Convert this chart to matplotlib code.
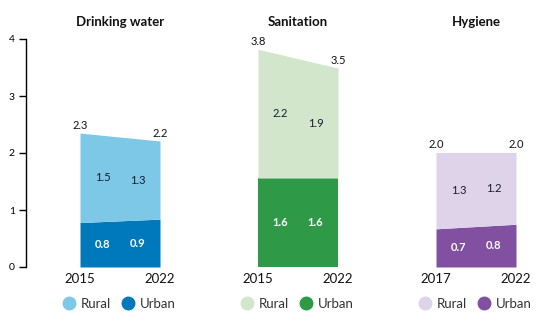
import matplotlib.pyplot as plt
from matplotlib.lines import Line2D

plt.rcParams['font.family'] = ['Lato', 'DejaVu Sans']

# Data (billions of people lacking services)
panels = ['Drinking water', 'Sanitation', 'Hygiene']
years = [['2015', '2022'], ['2015', '2022'], ['2017', '2022']]
urban = [[0.78, 0.84], [1.56, 1.56], [0.67, 0.75]]
total = [[2.35, 2.21], [3.82, 3.49], [2.01, 2.01]]
urban_lbl = [['0.8', '0.9'], ['1.6', '1.6'], ['0.7', '0.8']]
rural_lbl = [['1.5', '1.3'], ['2.2', '1.9'], ['1.3', '1.2']]
total_lbl = [['2.3', '2.2'], ['3.8', '3.5'], ['2.0', '2.0']]

light = ['#7DC8E6', '#D1E6CB', '#DED3E8']
dark = ['#0079BC', '#2E9A48', '#8150A0']

W, H = 560, 333
fig = plt.figure(figsize=(W / 100, H / 100), dpi=100)
ax = fig.add_axes([26 / W, 66 / H, 1 - 26 / W, (267 - 39) / H])

# x in units of one panel width (80 px); panel centers every 178 px
centers = [0, 2.225, 4.45]
ax.set_xlim(-94 / 80, (560 - 120) / 80)
ax.set_ylim(0, 4)

for i, c in enumerate(centers):
    xs = [c - 0.5, c + 0.5]
    ax.fill_between(xs, 0, urban[i], color=dark[i], lw=0)
    ax.fill_between(xs, urban[i], total[i], color=light[i], lw=0)
    for j in range(2):
        xin = xs[j] + (0.28 if j == 0 else -0.28)
        ax.text(xin, (urban[i][j] + total[i][j]) / 2, rural_lbl[i][j],
                ha='center', va='center', fontsize=8, color='#1a1a2e')
        ax.text(xin, urban[i][j] / 2, urban_lbl[i][j],
                ha='center', va='center', fontsize=8, color='white',
                fontweight='bold')
        ax.annotate(total_lbl[i][j], (xs[j], total[i][j]), xytext=(0, 1.5),
                    textcoords='offset points', ha='center', va='bottom',
                    fontsize=8, color='#111111')
        ax.annotate(years[i][j], (xs[j], 0), xytext=(0, -4),
                    textcoords='offset points', ha='center', va='top',
                    fontsize=9.5, color='#111111')
    ax.text(c, 4.3, panels[i], ha='center', va='center', fontsize=9.5,
            fontweight='bold', color='#111111')
    handles = [Line2D([], [], ls='', marker='o', ms=9, color=light[i]),
               Line2D([], [], ls='', marker='o', ms=9, color=dark[i])]
    fig.legend(handles, ['Rural', 'Urban'], loc='center', ncol=2,
               bbox_to_anchor=((120 + 178 * i) / W, 1 - 304 / H),
               frameon=False, fontsize=9.5, handlelength=0.8,
               handletextpad=0.5, columnspacing=0.9, borderpad=0,
               labelcolor='#333333')

for s in ['top', 'right', 'bottom']:
    ax.spines[s].set_visible(False)
ax.spines['left'].set_linewidth(1)
ax.set_xticks([])
ax.set_yticks([0, 1, 2, 3, 4])
ax.tick_params(axis='y', length=5, width=1, labelsize=7.5, pad=3)
ax.patch.set_alpha(0)

fig.savefig('out.png', dpi=100)
